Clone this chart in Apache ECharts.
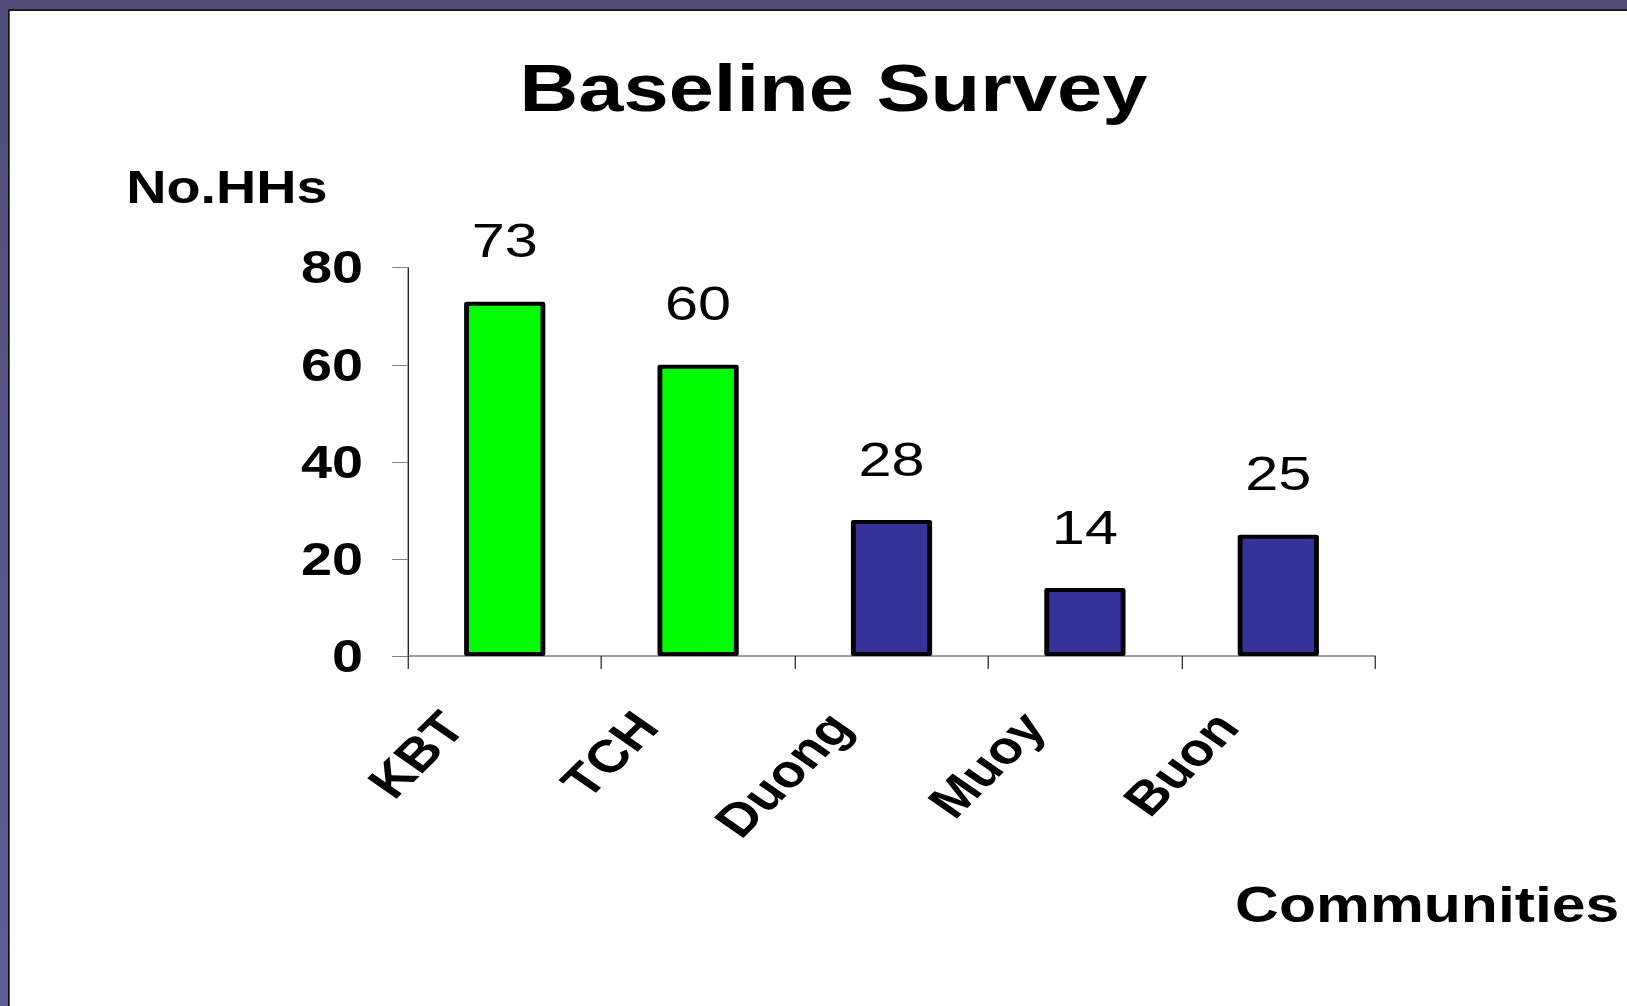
<!DOCTYPE html>
<html>
<head>
<meta charset="utf-8">
<title>Baseline Survey</title>
<script src="https://cdn.jsdelivr.net/npm/echarts@6/dist/echarts.min.js"></script>
<style>
  html, body { margin: 0; padding: 0; overflow: hidden; background: #524f7c; }
  /* The slide is laid out at 4:3 and widened to fill the 16:10 window */
  #stage { width: 1341px; height: 1006px; transform: scaleX(1.21327); transform-origin: 0 0; }
</style>
</head>
<body>
<div id="stage"></div>
<script>
// Households surveyed per community
const categories = ['KBT', 'TCH', 'Duong', 'Muoy', 'Buon'];
const households = [73, 60, 28, 14, 25];
const barColors = ['#00ff00', '#00ff00', '#333399', '#333399', '#333399'];
const yMin = 0;
const yMax = 80;
const yStep = 20;

const FONT = "'Liberation Sans', Arial, sans-serif";

const chart = echarts.init(document.getElementById('stage'), null, { renderer: 'svg' });

chart.setOption({
  animation: false,
  graphic: [
    // slide backdrop and white panel with its dark edge
    { type: 'rect', z: -100, shape: { x: 0, y: 0, width: 1341, height: 1006 },
      style: { fill: new echarts.graphic.LinearGradient(0, 0, 0, 1, [
        { offset: 0, color: '#4f4c78' }, { offset: 1, color: '#605e96' }]) } },
    { type: 'rect', z: -99, shape: { x: 6.6, y: 9.3, width: 1341, height: 1006 },
      style: { fill: '#111111' } },
    { type: 'rect', z: -98, shape: { x: 8, y: 11, width: 1341, height: 1006 },
      style: { fill: '#ffffff' } },
    { type: 'text', z: 10, x: 687, y: 88.5,
      style: { text: 'Baseline Survey', fill: '#000', font: 'bold 67px ' + FONT,
               textAlign: 'center', textVerticalAlign: 'middle' } },
    { type: 'text', z: 10, x: 187, y: 187,
      style: { text: 'No.HHs', fill: '#000', font: 'bold 46px ' + FONT,
               textAlign: 'center', textVerticalAlign: 'middle' } },
    { type: 'text', z: 10, x: 1018, y: 905,
      style: { text: 'Communities', fill: '#000', font: 'bold 50px ' + FONT,
               textAlign: 'left', textVerticalAlign: 'middle' } }
  ],
  grid: { left: 336.3, right: 207.7, top: 267.7, bottom: 350, containLabel: false },
  xAxis: {
    type: 'category',
    data: categories,
    boundaryGap: true,
    axisLine: { show: true, lineStyle: { color: '#808080', width: 1.5 } },
    axisTick: { show: true, alignWithLabel: false, length: 13, lineStyle: { color: '#222222', width: 1 } },
    axisLabel: {
      interval: 0, rotate: 50, margin: 12, padding: [0, 66, 0, 0],
      color: '#000', fontFamily: FONT, fontWeight: 'bold', fontSize: 46
    },
    splitLine: { show: false }
  },
  yAxis: {
    type: 'value',
    min: yMin, max: yMax, interval: yStep,
    axisLine: { show: true, lineStyle: { color: '#000000', width: 1 } },
    axisTick: { show: true, length: 13, lineStyle: { color: '#808080', width: 1 } },
    axisLabel: { margin: 37, color: '#000', fontFamily: FONT, fontWeight: 'bold', fontSize: 46 },
    splitLine: { show: false }
  },
  series: [{
    type: 'bar',
    barWidth: '42%',
    data: households.map((v, i) => ({ value: v, itemStyle: { color: barColors[i] } })),
    itemStyle: { borderColor: '#000000', borderWidth: 4, borderJoin: 'round' },
    label: {
      show: true, position: 'top', distance: 36.5,
      color: '#000', fontFamily: FONT, fontWeight: 'normal', fontSize: 49
    }
  }]
});
</script>
</body>
</html>
